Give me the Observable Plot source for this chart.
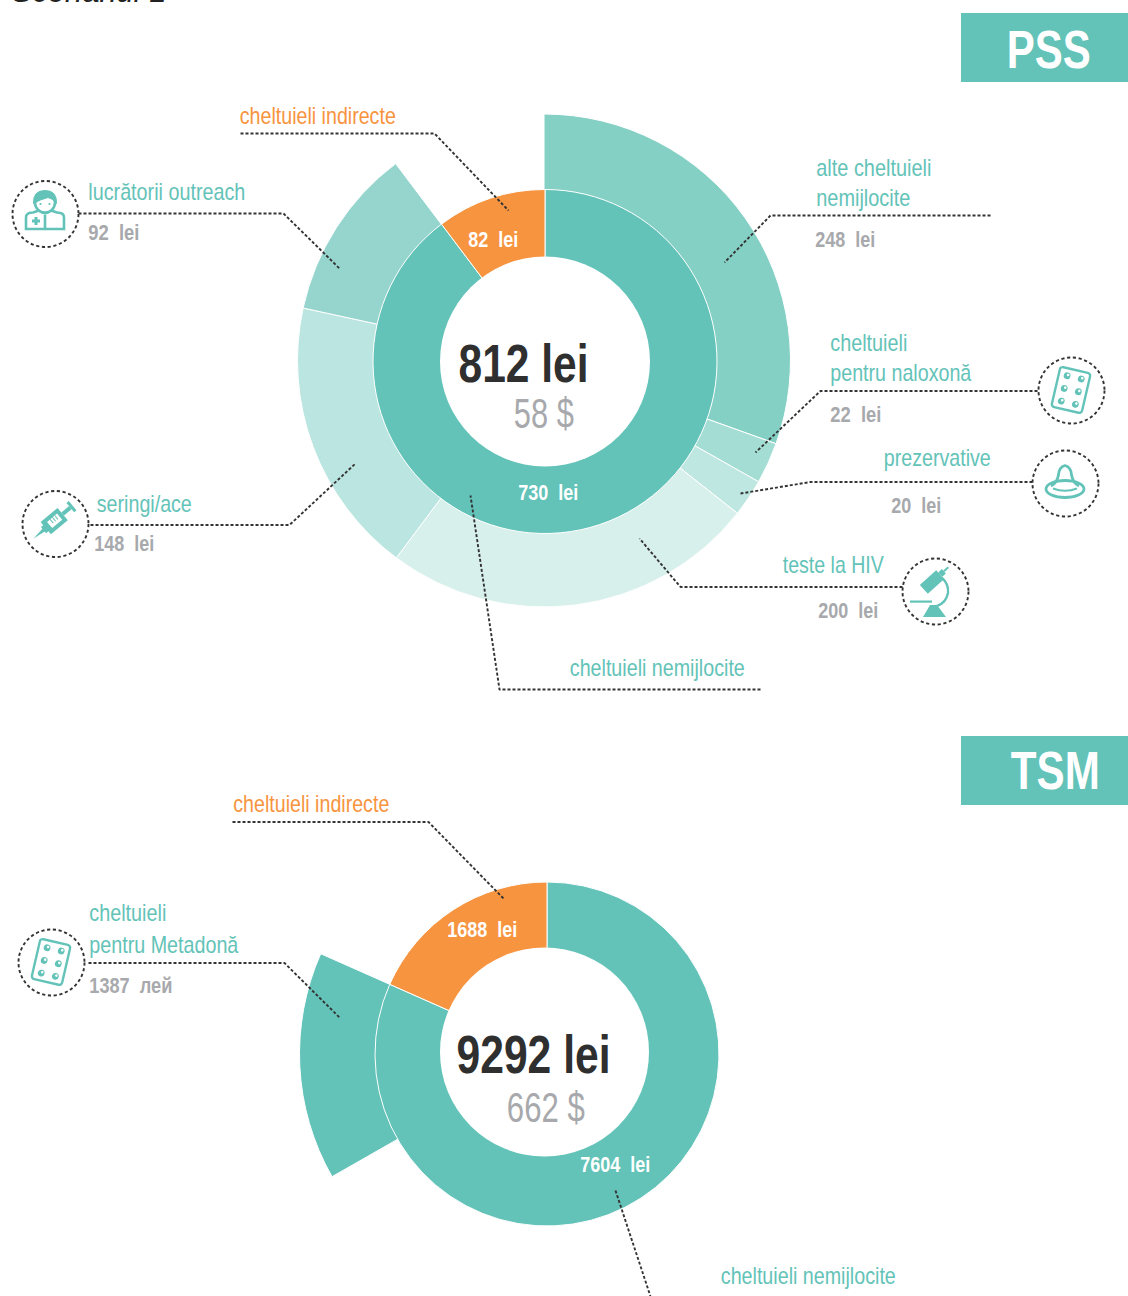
<!DOCTYPE html>
<html><head><meta charset="utf-8">
<style>
html,body{margin:0;padding:0;background:#fff;overflow:hidden}
svg text{white-space:pre}
</style>
<script src="https://cdn.jsdelivr.net/npm/d3@7"></script>
<script src="https://cdn.jsdelivr.net/npm/@observablehq/plot@0.6"></script>
</head><body><div id="chart"></div>
<script>
// ---- data ----
const pssInnerNames = ["cheltuieli nemijlocite", "cheltuieli indirecte"];
const pssInnerValues = [730, 82];
const pssOuterNames = ["alte cheltuieli nemijlocite", "cheltuieli pentru naloxonă", "prezervative", "teste la HIV", "seringi/ace", "lucrătorii outreach"];
const pssOuterValues = [248, 22, 20, 200, 148, 92];
const tsmInnerNames = ["cheltuieli nemijlocite", "cheltuieli indirecte"];
const tsmInnerValues = [7604, 1688];
const tsmOuterNames = ["cheltuieli pentru Metadonă"];
const tsmOuterValues = [1387];
const totals = {PSS: [812, 58], TSM: [9292, 662]};

// ---- styling / layout (not data) ----
const TEAL = "#63c3b8", ORANGE = "#f79440", GRAY = "#a7a9ac", DARK = "#2f2f2f", LINE = "#333";
const pssOuterFill = ["#85d0c5", "#a3ddd4", "#bfe7e1", "#d8f0ec", "#bbe5e0", "#95d5cd"];
// The two rings and the hole of the source are not quite concentric.
const geometry = {
  PSS: {inner: [545, 361.5, 172], outer: [544, 360.5, 246.5], hole: [544.5, 361, 105], sweep: 323, direct: pssInnerValues[0]},
  TSM: {inner: [547, 1054, 172], outer: [547, 1054, 247.5], hole: [544, 1051.5, 104.5], sweep: 293.9, direct: tsmInnerValues[0]}
};

function slices(key, names, values, fills, ring, startValue) {
  let acc = startValue;
  return values.map((v, i) => {
    const row = {key, name: names[i], value: v, from: acc, to: acc + v, fill: fills[i], ring};
    acc += v;
    return row;
  });
}
const arcs = [
  ...slices("PSS", pssOuterNames, pssOuterValues, pssOuterFill, "outer", 0),
  ...slices("PSS", pssInnerNames, pssInnerValues, [TEAL, ORANGE], "inner", 0),
  ...slices("TSM", tsmOuterNames, tsmOuterValues, [TEAL], "outer", tsmInnerValues[0] - tsmOuterValues[0]),
  ...slices("TSM", tsmInnerNames, tsmInnerValues, [TEAL, ORANGE], "inner", 0)
];
function angle(key, v) {
  const {sweep, direct} = geometry[key];
  const deg = v <= direct ? v / direct * sweep : sweep + (v - direct) / (totals[key][0] - direct) * (360 - sweep);
  return deg * Math.PI / 180;
}
function arcMark(index, scales) {
  const g = d3.create("svg:g").attr("aria-label", "sunburst");
  const gen = d3.arc();
  for (const a of arcs) {
    const [cx, cy, r] = geometry[a.key][a.ring];
    g.append("path")
      .attr("transform", `translate(${scales.x(cx)},${scales.y(cy)})`)
      .attr("d", gen({innerRadius: a.ring === "outer" ? 120 : 80, outerRadius: r,
        startAngle: angle(a.key, a.from), endAngle: angle(a.key, a.to)}))
      .attr("fill", a.fill).attr("stroke", "#fff").attr("stroke-width", 1);
  }
  return g.node();
}
const holes = Object.values(geometry).map(({hole: [x, y, r]}) => ({x, y, r}));

const leaders = [
  [[240,133],[434,133],[508,210]],
  [[78,213],[283,213],[339,268]],
  [[990,215],[770,215],[724,262]],
  [[1037,390.5],[820,390.5],[755,452]],
  [[1032,481.5],[810,481.5],[740,493]],
  [[902,586.5],[680,586.5],[639,538]],
  [[760,689],[499,689],[470,495]],
  [[90,524.5],[289,524.5],[355,463]],
  [[232,821.5],[428,821.5],[503,898]],
  [[88,962.5],[284,962.5],[339,1017]],
  [[615,1190],[650,1296]]
];
const leaderRows = leaders.flatMap((pts, id) => pts.map(([x, y]) => ({id, x, y})));

const icons = [
  {x: 45, y: 213.5, kind: "person"},
  {x: 1071, y: 390, kind: "pill"},
  {x: 1065, y: 483, kind: "condom"},
  {x: 935, y: 591, kind: "scope"},
  {x: 55, y: 523.5, kind: "syringe"},
  {x: 51, y: 962, kind: "pill"}
];
const pillDots = [[-7,-13],[7.5,-13],[-7,0],[7.5,0],[-7,13],[7.5,13]].map(([x,y]) =>
  `<circle cx="${x}" cy="${y}" r="3.4" fill="${TEAL}"/><circle cx="${x+.8}" cy="${y-1}" r="1.3" fill="#fff"/>`).join("");
const iconSvg = {
  person: `<g fill="none" stroke="${TEAL}" stroke-width="2.6">
    <path d="M-19 15.5V4Q-19 -1 -12 -1L-6 -3Q0 2 6 -3L12 -1Q19 -1 19 4V15.5Z" fill="#fff"/>
    <path d="M0 1V15.5"/><circle cx="0" cy="-11" r="10" fill="#fff"/>
    <path d="M-11.5 -10Q-12 -23 0 -23Q12 -23 11.5 -10Q8 -15 3 -16Q-5 -14 -11.5 -10Z" fill="${TEAL}" stroke-width="1"/>
    <path d="M-13 7.5H-5M-9 3.5V11.5" stroke-width="3"/></g>
    <circle cx="-4.5" cy="-9.5" r="1.1" fill="${TEAL}"/><circle cx="4.5" cy="-9.5" r="1.1" fill="${TEAL}"/>`,
  pill: `<g transform="rotate(13)"><rect x="-15.5" y="-20.5" width="31" height="41" rx="3" fill="none" stroke="${TEAL}" stroke-width="2.4"/>${pillDots}</g>`,
  condom: `<g fill="none" stroke="${TEAL}" stroke-width="2.8"><ellipse cx="0" cy="6" rx="19" ry="8.5"/>
    <path d="M-14 3Q-8 0 -6.5 -8Q-6 -16 0 -17.5Q6 -16 6.5 -8Q8 0 14 3"/><path d="M-12 5.5Q0 10 12 5.5" stroke-width="2"/></g>`,
  scope: `<g fill="${TEAL}"><g transform="translate(-3,-9) rotate(-42)"><rect x="-11" y="-6" width="22" height="12"/><rect x="11" y="-3" width="5" height="6"/><rect x="16" y="-1" width="6" height="2"/></g>
    <path d="M-5 14L2 14L11 26L-12 26Z"/><rect x="-25" y="9.5" width="22" height="2.2"/></g>
    <path d="M7 -13Q14 -7 13 2Q11 12 2 15" fill="none" stroke="${TEAL}" stroke-width="2.4"/>`,
  syringe: `<g transform="translate(0,-3) rotate(-40)" fill="${TEAL}"><path d="M-28 0L-13 -2V2Z"/><path d="M-15 -4H-12V-8H10V8H-12V4H-15Z"/>
    <rect x="10" y="-2" width="10" height="4"/><rect x="20" y="-6" width="3" height="12"/>
    <rect x="-7" y="-4" width="13" height="8" fill="#fff"/><path d="M-3 -4V1M0 -4V1M3 -4V1" stroke="${TEAL}" stroke-width="1"/></g>`
};
function iconMark(index, scales) {
  const g = d3.create("svg:g").attr("aria-label", "icons");
  for (const d of icons) {
    g.append("g").attr("transform", `translate(${scales.x(d.x)},${scales.y(d.y)})`).html(iconSvg[d.kind]);
  }
  return g.node();
}

const banners = [
  {x1: 961, x2: 1128, y1: 13, y2: 82},
  {x1: 961, x2: 1128, y1: 736, y2: 805}
];

const lei = v => `${v}  lei`;
const nameLabels = [
  {t: "lucrătorii outreach", x: 88.5, y: 200, w: 157},
  {t: "alte cheltuieli", x: 816.5, y: 176, w: 115},
  {t: "nemijlocite", x: 816.5, y: 206, w: 94},
  {t: "cheltuieli", x: 830.5, y: 351, w: 77},
  {t: "pentru naloxonă", x: 830.5, y: 381, w: 141},
  {t: "prezervative", x: 884, y: 466, w: 107},
  {t: "teste la HIV", x: 783, y: 573, w: 101},
  {t: "cheltuieli nemijlocite", x: 570, y: 676, w: 175},
  {t: "seringi/ace", x: 97, y: 512, w: 95},
  {t: "cheltuieli", x: 89.5, y: 921, w: 77},
  {t: "pentru Metadonă", x: 89.5, y: 953, w: 149},
  {t: "cheltuieli nemijlocite", x: 721, y: 1284, w: 175}
];
const orangeLabels = [
  {t: "cheltuieli indirecte", x: 240, y: 124, w: 156},
  {t: "cheltuieli indirecte", x: 233.5, y: 812, w: 156}
];
const valueLabels = [
  {t: lei(pssOuterValues[5]), x: 88.5, y: 240, w: 51},
  {t: lei(pssOuterValues[0]), x: 815.5, y: 247, w: 60},
  {t: lei(pssOuterValues[1]), x: 830.5, y: 422, w: 51},
  {t: lei(pssOuterValues[2]), x: 891.5, y: 513, w: 50},
  {t: lei(pssOuterValues[3]), x: 818.5, y: 618, w: 60},
  {t: lei(pssOuterValues[4]), x: 94.5, y: 551, w: 60},
  {t: `${tsmOuterValues[0]}  лей`, x: 89.5, y: 993, w: 83}
];
const ringLabels = [
  {t: lei(pssInnerValues[1]), x: 468.5, y: 247, w: 50},
  {t: lei(pssInnerValues[0]), x: 518.5, y: 500, w: 60},
  {t: lei(tsmInnerValues[1]), x: 447.5, y: 937, w: 70},
  {t: lei(tsmInnerValues[0]), x: 580.5, y: 1172, w: 70}
];
const totalLabels = [
  {t: `${totals.PSS[0]} lei`, x: 458.7, y: 382, w: 130},
  {t: `${totals.TSM[0]} lei`, x: 456.7, y: 1073, w: 154}
];
const usdLabels = [
  {t: `${totals.PSS[1]} $`, x: 514, y: 428, w: 60},
  {t: `${totals.TSM[1]} $`, x: 507, y: 1122, w: 78}
];
const bannerLabels = [
  {t: "PSS", x: 1007, y: 68, w: 84},
  {t: "TSM", x: 1011, y: 789, w: 89}
];
const NARROW = "'Liberation Sans Narrow','Liberation Sans',Arial,sans-serif";
const txt = (rows, fontSize, fill, fontWeight = "normal") => Plot.text(rows, {
  x: "x", y: "y", text: "t", fontSize, fill, fontWeight, fontFamily: NARROW,
  textAnchor: "start", lineAnchor: "bottom", dx: -0.7, dy: -1
});

const chart = Plot.plot({
  width: 1128, height: 1296, margin: 0,
  x: {domain: [0, 1128], range: [0, 1128], axis: null},
  y: {domain: [0, 1296], range: [0, 1296], axis: null},
  r: {type: "identity"},
  style: {background: "#fff", overflow: "hidden"},
  marks: [
    arcMark,
    Plot.dot(holes, {x: "x", y: "y", r: "r", fill: "#fff"}),
    Plot.rect(banners, {x1: "x1", x2: "x2", y1: "y1", y2: "y2", fill: TEAL}),
    Plot.line(leaderRows, {x: "x", y: "y", z: "id", stroke: LINE, strokeWidth: 1.9, strokeDasharray: "3,2", strokeLinecap: "butt", curve: "linear"}),
    Plot.dot(icons, {x: "x", y: "y", r: 33, fill: "#fff", stroke: LINE, strokeWidth: 1.9, strokeDasharray: "3.2,2.6"}),
    iconMark,
    Plot.text(["Scenariul 1"], {x: [11], y: [1.5], text: d => d, fontSize: 31, fontStyle: "italic", fill: "#222",
      fontFamily: "'Liberation Sans',Arial,sans-serif", textAnchor: "start", lineAnchor: "bottom"}),
    txt(nameLabels, 24, TEAL),
    txt(orangeLabels, 24, ORANGE),
    txt(valueLabels, 22, GRAY, "bold"),
    txt(ringLabels, 22, "#fff", "bold"),
    txt(totalLabels, 54, DARK, "bold"),
    txt(usdLabels, 42, GRAY),
    txt(bannerLabels, 54, "#fff", "bold")
  ]
});
// Fit each label to the run width measured on the reference.
const widths = new Map([...nameLabels, ...orangeLabels, ...valueLabels, ...ringLabels, ...totalLabels, ...usdLabels, ...bannerLabels].map(d => [d.t, d.w]));
chart.querySelectorAll("text").forEach(n => {
  const w = widths.get(n.textContent);
  if (w) { n.setAttribute("textLength", w); n.setAttribute("lengthAdjust", "spacingAndGlyphs"); }
});
document.getElementById("chart").appendChild(chart);
</script>
</body></html>
